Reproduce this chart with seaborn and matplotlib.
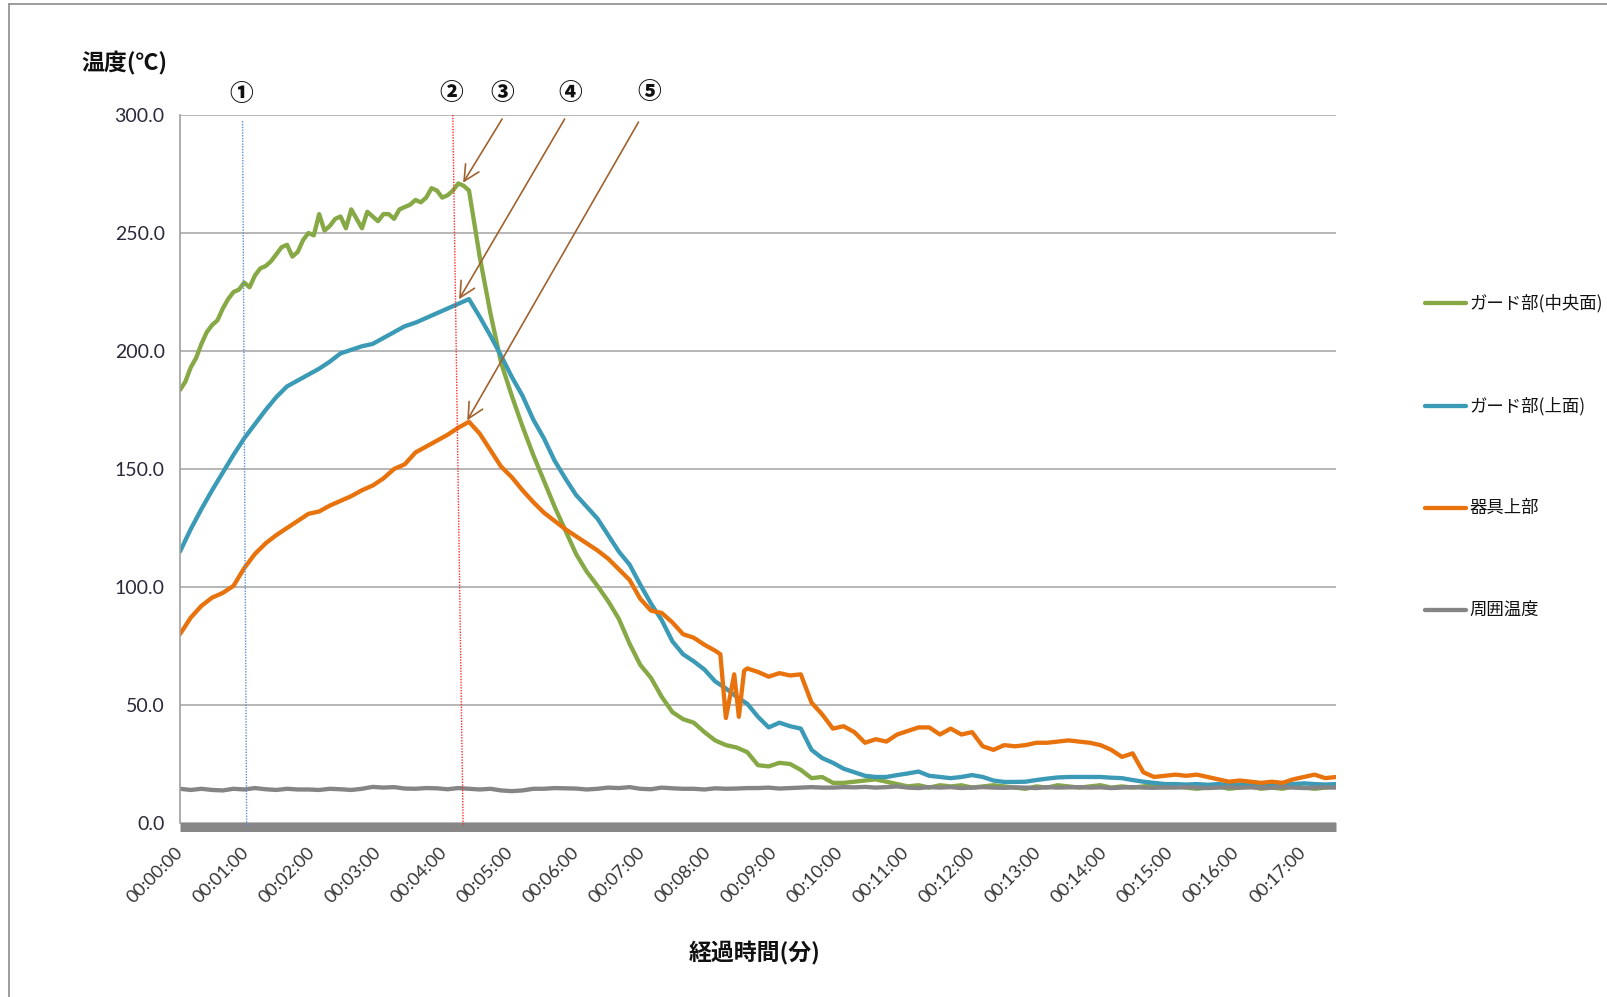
import numpy as np
import matplotlib
matplotlib.use("Agg")
import matplotlib.pyplot as plt
from matplotlib.lines import Line2D
from matplotlib.ticker import FixedLocator, FuncFormatter
import seaborn as sns

# ---------------------------------------------------------------- data
# Logger samples, one row per minute (6 samples per row), 109 samples over 17.5 min
run_length_min = 17.5
n_samples = 109

guard_center = [
    183.5, 193, 203, 211, 218, 225,
    229, 232, 236, 241, 245, 242,
    250, 258, 253, 257, 260, 252,
    257, 258, 256, 261, 264, 265,
    268, 266, 271, 268, 240, 216,
    195, 181, 168, 156, 145, 134,
    124, 114, 106.5, 100.5, 94, 86.5,
    76, 67, 61.5, 53.5, 47, 44,
    42.5, 38.5, 35, 33, 32, 30,
    24.5, 24, 25.5, 25, 22.5, 19,
    19.5, 17, 17, 17.5, 18, 18.5,
    17.5, 16.5, 15.5, 16, 15, 16,
    15.5, 16, 15, 15.5, 16, 15.5,
    15, 14.5, 15.5, 15, 16, 15.5,
    15, 15.5, 16, 15, 15.5, 15,
    15.5, 16, 15, 15.5, 15, 14.5,
    15, 15.5, 14.5, 15, 15.5, 14.5,
    15, 14.5, 15.5, 15, 14.5, 15,
    15.5,
]
# in-between samples of the centre sensor during heating (first 27 intervals)
guard_center_between = [
    187, 197, 208, 213, 222, 226,
    227, 235, 238, 244, 240, 247,
    249, 251, 256, 252, 256, 259,
    255, 258, 260, 262, 263, 269,
    265, 268, 270,
]

guard_top = [
    115, 124.5, 133, 141, 148.5, 156,
    163, 169, 175, 180.5, 185, 187.5,
    190, 192.5, 195.5, 199, 200.5, 202,
    203, 205.5, 208, 210.5, 212, 214,
    216, 218, 220, 222, 214.5, 206.5,
    198, 189, 181, 171, 163, 153.5,
    146, 139, 134, 129, 122, 115,
    109.5, 101, 93, 86, 77, 71.5,
    68.5, 65, 60, 57, 53.5, 50.5,
    45, 40.5, 42.5, 41, 40, 31,
    27.5, 25.5, 23, 21.5, 20, 19.5,
    19.5, 20.3, 21, 21.8, 20, 19.5,
    19, 19.5, 20.3, 19.5, 18, 17.4,
    17.4, 17.5, 18.2, 18.8, 19.3, 19.5,
    19.5, 19.5, 19.5, 19.2, 19, 18.2,
    17.5, 17, 16.5, 16.5, 16.3, 16.5,
    16.2, 16.5, 16, 16.3, 16.5, 16.2,
    16.5, 16.2, 16.5, 16.8, 16.5, 16.3,
    16.5,
]

fixture_top = [
    80, 87, 92, 95.5, 97.5, 100.5,
    108, 114, 118.5, 122, 125, 128,
    131, 132, 134.5, 136.5, 138.5, 141,
    143, 146, 150, 152, 157, 159.5,
    162, 164.5, 167.5, 170, 165, 158,
    151, 146.5, 141, 136, 131.5, 128,
    124.5, 121.5, 118.5, 115.5, 112, 107.5,
    103, 95, 90, 89, 85, 80,
    78.5, 75.5, 73, 44.5, 54, 65.5,
    64, 62, 63.5, 62.5, 63, 51,
    46, 40, 41, 38.5, 34, 35.5,
    34.5, 37.5, 39, 40.5, 40.5, 37.5,
    40, 37.5, 38.5, 32.5, 31, 33,
    32.5, 33, 34, 34, 34.5, 35,
    34.5, 34, 33, 31, 28, 29.5,
    21.5, 19.5, 20, 20.5, 20, 20.5,
    19.5, 18.5, 17.5, 18, 17.5, 17,
    17.5, 17, 18.5, 19.5, 20.5, 19,
    19.5,
]
# extra fast samples around the sensor glitch near 8 min
fixture_glitch_min = [8.18, 8.39, 8.46, 8.54]
fixture_glitch_val = [71.5, 63, 45, 64.5]

ambient = [
    14.5, 14.0, 14.5, 14.0, 13.8, 14.5,
    14.2, 14.8, 14.3, 14.0, 14.5, 14.2,
    14.2, 14.0, 14.5, 14.3, 14.0, 14.5,
    15.3, 15.0, 15.2, 14.6, 14.5, 14.8,
    14.7, 14.3, 14.8, 14.5, 14.2, 14.5,
    13.8, 13.5, 13.8, 14.5, 14.5, 14.8,
    14.7, 14.6, 14.2, 14.5, 15.0, 14.8,
    15.2, 14.5, 14.3, 15.0, 14.7, 14.5,
    14.5, 14.2, 14.7, 14.5, 14.6, 14.8,
    14.8, 15.0, 14.6, 14.8, 15.0, 15.2,
    15.0, 15.0, 15.2, 15.1, 15.3, 15.0,
    15.2, 15.5, 15.0, 14.8, 15.2, 15.0,
    15.2, 14.8, 15.0, 15.2, 15.0, 14.9,
    15.1, 15.0, 14.8, 15.2, 15.0, 15.1,
    15.2, 15.0, 15.1, 14.8, 15.0, 15.2,
    15.0, 14.9, 15.1, 15.0, 15.2, 15.0,
    14.8, 15.0, 15.2, 15.0, 15.1, 14.9,
    15.0, 15.2, 15.0, 14.8, 15.0, 15.1,
    15.0,
]

series_names = ["ガード部(中央面)", "ガード部(上面)", "器具上部", "周囲温度"]
series_colors = ["#86A845", "#3B9AB6", "#E8720C", "#858585"]

tick_minutes = list(range(0, 18))
y_ticks = [0, 50, 100, 150, 200, 250, 300]

# event markers: label, label position (min, °C)
event_labels = ["①", "②", "③", "④", "⑤"]
event_label_x = [0.93, 4.10, 4.88, 5.90, 7.10]
event_label_y = [309, 309.5, 309.5, 309.5, 310]
# pointer arrows for ③④⑤: tail -> head
arrow_tail = [(4.876, 298.3), (5.823, 298.3), (6.941, 297.0)]
arrow_head = [(4.286, 271.3), (4.224, 221.9), (4.348, 170.6)]
# dotted guide lines for ① and ②
guide_start = [(0.947, 297.4), (4.130, 300.0)]
guide_end = [(1.009, -1.3), (4.286, -1.3)]
guide_colors = ["#5B8FD0", "#FF2A2A"]

# ---------------------------------------------------------------- frames
t_min = np.linspace(0, run_length_min, n_samples)
step = run_length_min / (n_samples - 1)
extra_t = {
    "ガード部(中央面)": list(t_min[:len(guard_center_between)] + step / 2),
    "器具上部": fixture_glitch_min,
}
extra_v = {
    "ガード部(中央面)": guard_center_between,
    "器具上部": fixture_glitch_val,
}
tables = []
for name, vals in zip(series_names, [guard_center, guard_top, fixture_top, ambient]):
    tt = list(t_min) + extra_t.get(name, [])
    vv = list(vals) + extra_v.get(name, [])
    order = np.argsort(tt)
    tables.append((name, np.asarray(tt)[order], np.asarray(vv, dtype=float)[order]))

# ---------------------------------------------------------------- style
sns.set_theme(style="white")
plt.rcParams["font.family"] = ["Noto Sans CJK JP", "DejaVu Sans"]

W, H = 1607, 997
fig = plt.figure(figsize=(W / 100, H / 100), dpi=100)
ax = fig.add_axes([180 / W, 1 - 823 / H, (1336 - 180) / W, (823 - 115) / H])

for (name, tt, vv), color in zip(tables, series_colors):
    sns.lineplot(x=tt, y=vv, ax=ax, color=color, linewidth=3.1,
                 legend=False, errorbar=None, sort=True)

ax.set_xlim(0, run_length_min)
ax.set_ylim(0, 300)
ax.set_xlabel("")
ax.set_ylabel("")

ax.yaxis.set_major_locator(FixedLocator(y_ticks))
ax.yaxis.set_major_formatter(FuncFormatter(lambda v, p: f"{v:.1f}"))
ax.xaxis.set_major_locator(FixedLocator(tick_minutes))
ax.xaxis.set_major_formatter(FuncFormatter(lambda v, p: f"00:{int(round(v)):02d}:00"))

ax.yaxis.grid(True, color="#A3A3A3", linewidth=1.1)
ax.xaxis.grid(False)
ax.set_axisbelow(True)

for s in ["top", "right"]:
    ax.spines[s].set_visible(False)
ax.spines["left"].set_color("#A0A0A0")
ax.spines["left"].set_linewidth(1.2)
ax.spines["bottom"].set_color("#878787")
ax.spines["bottom"].set_linewidth(6.5)
ax.spines["bottom"].set_capstyle("butt")
ax.spines["bottom"].set_position(("outward", 3.2))

ax.tick_params(axis="y", direction="out", length=7, width=1.1, color="#A0A0A0",
               pad=4, labelsize=14, labelcolor="#2A2A3A", labelfontfamily="Lato")
ax.tick_params(axis="x", length=0, pad=16, labelsize=13, labelcolor="#333333",
               labelfontfamily="Lato")
for lbl in ax.get_xticklabels():
    lbl.set_rotation(45)
    lbl.set_ha("right")
    lbl.set_va("center")
    lbl.set_rotation_mode("anchor")

# guide lines and pointer arrows
for (x0, y0), (x1, y1), c in zip(guide_start, guide_end, guide_colors):
    ax.plot([x0, x1], [y0, y1], color=c, linewidth=1.0, linestyle=(0, (1, 1)),
            clip_on=False, zorder=5)
for tail, head in zip(arrow_tail, arrow_head):
    ax.annotate("", xy=head, xytext=tail, annotation_clip=False,
                arrowprops=dict(arrowstyle="->,head_length=0.7,head_width=0.35",
                                color="#A0622F", lw=1.2, shrinkA=0, shrinkB=0,
                                mutation_scale=16), zorder=6)
for lab, x, y in zip(event_labels, event_label_x, event_label_y):
    ax.text(x, y, lab, fontsize=17, fontweight="black", ha="center", va="center",
            color="#111111", clip_on=False)

# axis titles
fig.text(124 / W, 1 - 63 / H, "温度(℃)", fontsize=16.5, fontweight="bold",
         ha="center", va="center", color="#111111")
fig.text(755 / W, 1 - 953 / H, "経過時間(分)", fontsize=16.5, fontweight="bold",
         ha="center", va="center", color="#111111")

# legend column on the right
legend_rows = [303, 406, 508, 610]
for name, color, yr in zip(series_names, series_colors, legend_rows):
    fig.add_artist(Line2D([1425 / W, 1466 / W], [1 - yr / H] * 2, color=color,
                          linewidth=3.1, transform=fig.transFigure))
    fig.text(1469 / W, 1 - yr / H, name, fontsize=12.5, ha="left", va="center",
             color="#111111")

# chart frame
fig.add_artist(Line2D([8.5 / W, 1.0], [1 - 4.5 / H] * 2, color="#8C8C8C",
                      linewidth=1.2, transform=fig.transFigure))
fig.add_artist(Line2D([8.5 / W] * 2, [0.0, 1 - 4.5 / H], color="#8C8C8C",
                      linewidth=1.2, transform=fig.transFigure))

fig.savefig("out.png", dpi=100)
